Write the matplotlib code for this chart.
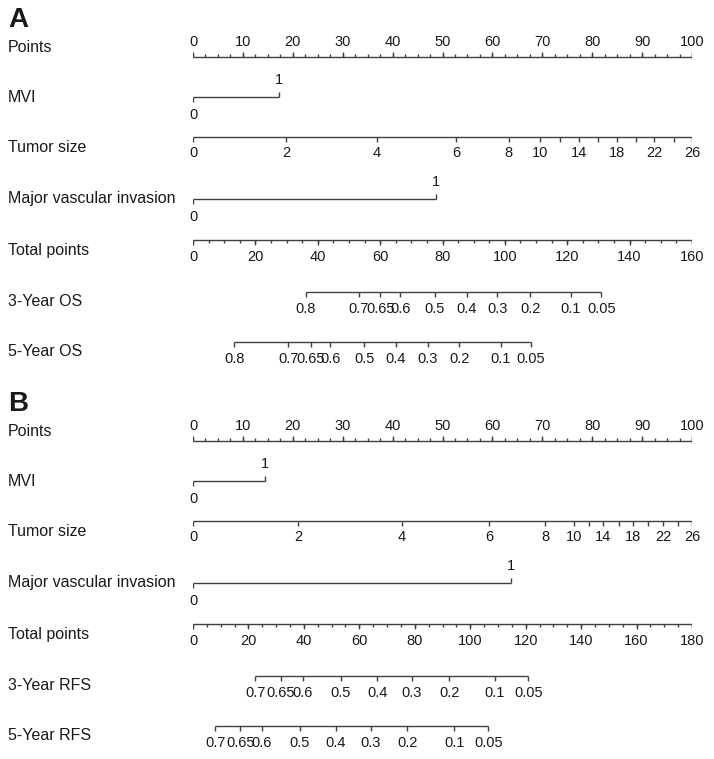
import numpy as np
import matplotlib.pyplot as plt
from matplotlib.transforms import blended_transform_factory

plt.rcParams['font.family'] = ['Liberation Sans', 'DejaVu Sans']

# ---- values (x positions on the 0-100 "Points" scale) ----
points_labels = [0, 10, 20, 30, 40, 50, 60, 70, 80, 90, 100]
points_minor_step = 2.5

tumor_size_values = [0, 2, 4, 6, 8, 10, 12, 14, 16, 18, 20, 22, 24, 26]
tumor_size_shown = [0, 2, 4, 6, 8, 10, 14, 18, 22, 26]
surv_probs = [0.8, 0.7, 0.65, 0.6, 0.5, 0.4, 0.3, 0.2, 0.1, 0.05]

# panel A - overall survival
a_mvi_points = [0, 17.2]
a_tumor_points = [0, 18.7, 36.9, 52.8, 63.3, 69.6, 73.5, 77.3, 81.1, 85.0, 88.8, 92.4, 96.3, 100]
a_major_points = [0, 48.7]
a_total_max = 160
a_total_minor_step = 5
a_os3_total = [36.1, 53.1, 60.1, 66.4, 77.5, 87.7, 97.6, 108.2, 121.2, 130.9]
a_os5_total = [13.3, 30.5, 37.7, 44.0, 54.9, 65.1, 75.2, 85.4, 98.6, 108.3]

# panel B - recurrence-free survival
b_mvi_points = [0, 14.5]
b_tumor_points = [0, 21.1, 41.9, 59.4, 70.6, 76.4, 79.4, 82.2, 85.3, 88.1, 91.2, 94.2, 97.2, 100]
b_major_points = [0, 63.7]
b_total_max = 180
b_total_minor_step = 5
rfs_probs = surv_probs[1:]
b_rfs3_total = [22.4, 31.7, 39.5, 53.4, 66.5, 78.9, 92.4, 108.9, 121.0]
b_rfs5_total = [8.0, 17.0, 24.8, 38.5, 51.6, 64.2, 77.3, 94.2, 106.5]

LC = '#404040'
TC = '#1a1a1a'
FS_TICK = 10.5
FS_ROW = 11.5

fig = plt.figure(figsize=(7.14, 7.59), dpi=100)
ax = fig.add_axes([193 / 714, 0, 499 / 714, 1])
ax.set_xlim(0, 100)
ax.set_ylim(759, 0)
ax.axis('off')
row_tr = blended_transform_factory(fig.transFigure, ax.transData)


def row_label(y, text):
    ax.text(8 / 714, y, text, transform=row_tr, ha='left', va='center',
            fontsize=FS_ROW, color=TC)


def scale(y, x, labels, ticks_up=False, minor=None, tick_len=5, gap=16):
    x = np.asarray(x, dtype=float)
    ax.hlines(y, x.min(), x.max(), color=LC, lw=1)
    d = -1 if ticks_up else 1
    ax.vlines(x, y, y + d * tick_len, color=LC, lw=1)
    if minor is not None:
        ax.vlines(minor, y, y + d * tick_len * 0.55, color=LC, lw=1)
    for xi, lab in zip(x, labels):
        if lab is None:
            continue
        ax.text(xi, y + d * gap, lab, ha='center', va='center',
                fontsize=FS_TICK, color=TC)


def binary(y, pts):
    ax.hlines(y, pts[0], pts[1], color=LC, lw=1)
    ax.vlines(pts[0], y, y + 5, color=LC, lw=1)
    ax.vlines(pts[1], y, y - 5, color=LC, lw=1)
    ax.text(pts[0], y + 18, '0', ha='center', va='center', fontsize=FS_TICK, color=TC)
    ax.text(pts[1], y - 17, '1', ha='center', va='center', fontsize=FS_TICK, color=TC)


def panel(y0, letter, mvi, tumor, major, tmax, tstep, p3, p5, probs, endpoint):
    ax.text(8 / 714, y0 + 20, letter, transform=row_tr, ha='left', va='center',
            fontsize=20, fontweight='bold', color=TC)
    # points
    row_label(y0 + 47, 'Points')
    scale(y0 + 57, points_labels, [str(v) for v in points_labels], ticks_up=True,
          minor=np.arange(0, 100.01, points_minor_step), gap=15)
    # MVI
    row_label(y0 + 98, 'MVI')
    binary(y0 + 97, mvi)
    # tumor size
    row_label(y0 + 148, 'Tumor size')
    tlabs = [str(v) if v in tumor_size_shown else None for v in tumor_size_values]
    scale(y0 + 137, tumor, tlabs)
    # major vascular invasion
    row_label(y0 + 198, 'Major vascular invasion')
    binary(y0 + 199, major)
    # total points
    row_label(y0 + 251, 'Total points')
    tot = np.arange(0, tmax + 1, 20)
    scale(y0 + 240, tot * 100 / tmax, [str(v) for v in tot],
          minor=np.arange(0, tmax + 0.01, tstep) * 100 / tmax, gap=17)
    # survival
    labs = ['%g' % p for p in probs]
    row_label(y0 + 302, '3-Year ' + endpoint)
    scale(y0 + 292, np.asarray(p3) * 100 / tmax, labs, gap=17)
    row_label(y0 + 352, '5-Year ' + endpoint)
    scale(y0 + 342, np.asarray(p5) * 100 / tmax, labs, gap=17)


panel(0, 'A', a_mvi_points, a_tumor_points, a_major_points, a_total_max,
      a_total_minor_step, a_os3_total, a_os5_total, surv_probs, 'OS')
panel(384, 'B', b_mvi_points, b_tumor_points, b_major_points, b_total_max,
      b_total_minor_step, b_rfs3_total, b_rfs5_total, rfs_probs, 'RFS')

fig.savefig('out.png', dpi=100)
